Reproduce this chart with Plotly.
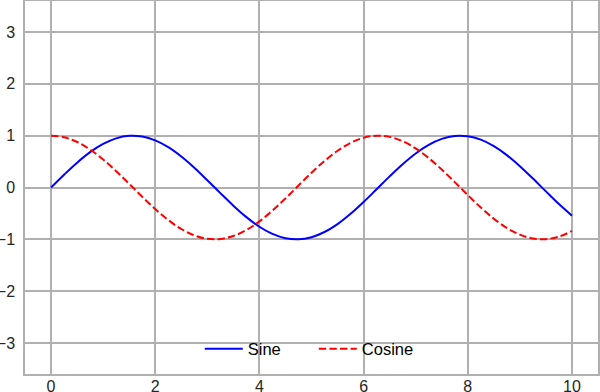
import plotly.graph_objects as go

x_vals = [0, 0.25, 0.5, 0.75, 1, 1.25, 1.5, 1.75, 2, 2.25, 2.5, 2.75, 3, 3.25, 3.5, 3.75,
          4, 4.25, 4.5, 4.75, 5, 5.25, 5.5, 5.75, 6, 6.25, 6.5, 6.75, 7, 7.25, 7.5, 7.75,
          8, 8.25, 8.5, 8.75, 9, 9.25, 9.5, 9.75, 10]
sine_vals = [0, 0.247, 0.479, 0.682, 0.841, 0.949, 0.997, 0.984, 0.909, 0.778, 0.598, 0.382,
             0.141, -0.108, -0.351, -0.572, -0.757, -0.895, -0.978, -0.999, -0.959, -0.859,
             -0.706, -0.508, -0.279, -0.033, 0.215, 0.450, 0.657, 0.823, 0.938, 0.995,
             0.989, 0.923, 0.798, 0.625, 0.412, 0.174, -0.075, -0.320, -0.544]
cosine_vals = [1, 0.969, 0.878, 0.732, 0.540, 0.315, 0.071, -0.178, -0.416, -0.628, -0.801,
               -0.924, -0.990, -0.994, -0.936, -0.821, -0.654, -0.446, -0.211, 0.038, 0.284,
               0.512, 0.709, 0.861, 0.960, 0.999, 0.977, 0.893, 0.754, 0.568, 0.347, 0.104,
               -0.146, -0.386, -0.602, -0.781, -0.911, -0.985, -0.997, -0.948, -0.839]
x_ticks = [0, 2, 4, 6, 8, 10]
y_ticks = [-3, -2, -1, 0, 1, 2, 3]

fig = go.Figure()
fig.add_trace(go.Scatter(x=x_vals, y=sine_vals, mode="lines", name="Sine", legend="legend",
                         line=dict(color="#0000ff", width=2, shape="spline")))
fig.add_trace(go.Scatter(x=x_vals, y=cosine_vals, mode="lines", name="Cosine", legend="legend2",
                         line=dict(color="#ff0000", width=2, shape="spline",
                                   dash="7.4px,3.2px")))

axis_common = dict(showgrid=True, gridcolor="#b0b0b0", gridwidth=1.5, zeroline=False,
                   showline=True, linecolor="#b0b0b0", linewidth=1.5, mirror=True,
                   automargin=False, ticks="",
                   tickfont=dict(family="Liberation Sans, Arial", size=16, color="#262626"))
fig.update_xaxes(range=[-0.5, 10.5], tickvals=x_ticks, ticklabelstandoff=-3, **axis_common)
fig.update_yaxes(range=[-3.6, 3.6], tickvals=y_ticks, ticklabelstandoff=5, **axis_common)

legend_common = dict(orientation="h", xanchor="left", y=0.02, yanchor="bottom",
                     bgcolor="rgba(0,0,0,0)", itemwidth=38,
                     font=dict(family="Liberation Sans, Arial", size=16.5, color="#000000"))
fig.update_layout(
    width=600, height=392,
    margin=dict(l=25, r=2, t=1, b=18),
    plot_bgcolor="white", paper_bgcolor="white",
    legend=dict(x=0.305, **legend_common),
    legend2=dict(x=0.504, **legend_common),
    showlegend=True,
)
fig.write_html("out.html", config={"displayModeBar": False},
               post_script="document.body.style.margin='0';document.body.style.padding='0';")
